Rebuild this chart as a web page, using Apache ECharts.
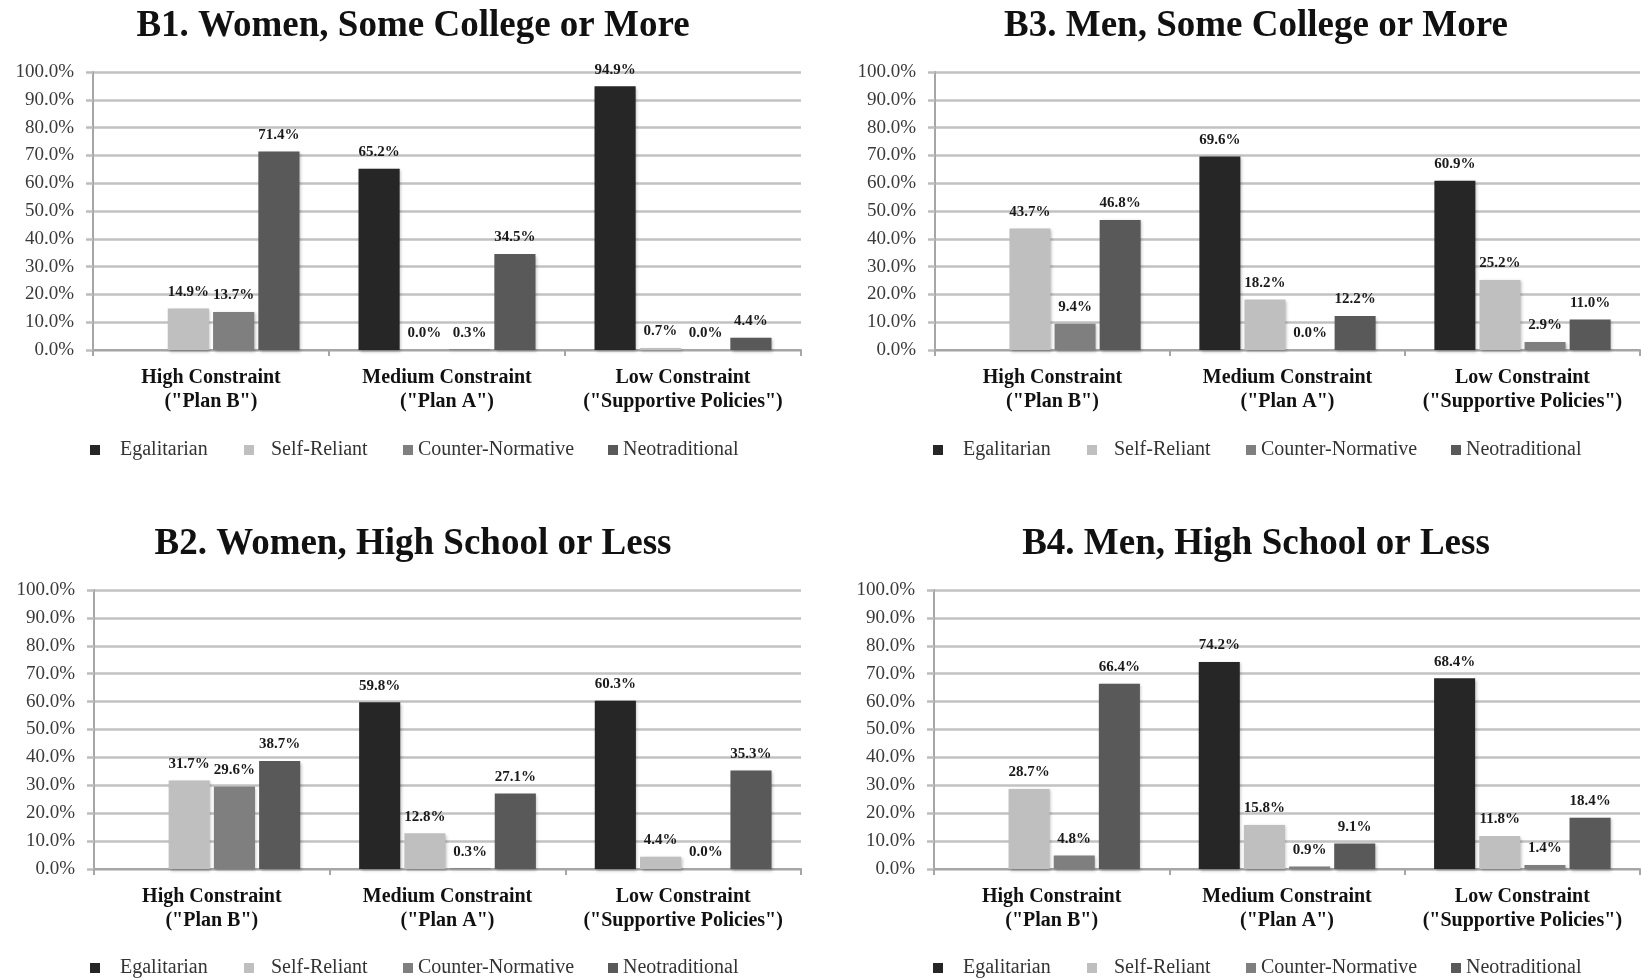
<!DOCTYPE html>
<html>
<head>
<meta charset="utf-8">
<script src="https://cdn.jsdelivr.net/npm/echarts@6/dist/echarts.min.js"></script>
<style>
html,body{margin:0;padding:0;background:#fff;}
#c{width:1641px;height:978px;}
</style>
</head>
<body>
<div id="c"></div>
<script>
// ---- data ----
const categories = ['High Constraint\n("Plan B")', 'Medium Constraint\n("Plan A")', 'Low Constraint\n("Supportive Policies")'];
const seriesNames = ['Egalitarian', 'Self-Reliant', 'Counter-Normative', 'Neotraditional'];
const yTicks = [0, 10, 20, 30, 40, 50, 60, 70, 80, 90, 100];
const panelTitles = ['B1. Women, Some College or More', 'B3. Men, Some College or More', 'B2. Women, High School or Less', 'B4. Men, High School or Less'];

// values per series, order: High, Medium, Low  (null = no bar)
const b1Egalitarian = [null, 65.2, 94.9];
const b1SelfReliant = [14.9, 0.0, 0.7];
const b1CounterNormative = [13.7, 0.3, 0.0];
const b1Neotraditional = [71.4, 34.5, 4.4];

const b3Egalitarian = [null, 69.6, 60.9];
const b3SelfReliant = [43.7, 18.2, 25.2];
const b3CounterNormative = [9.4, 0.0, 2.9];
const b3Neotraditional = [46.8, 12.2, 11.0];

const b2Egalitarian = [null, 59.8, 60.3];
const b2SelfReliant = [31.7, 12.8, 4.4];
const b2CounterNormative = [29.6, 0.3, 0.0];
const b2Neotraditional = [38.7, 27.1, 35.3];

const b4Egalitarian = [null, 74.2, 68.4];
const b4SelfReliant = [28.7, 15.8, 11.8];
const b4CounterNormative = [4.8, 0.9, 1.4];
const b4Neotraditional = [66.4, 9.1, 18.4];

const panelData = [
  [b1Egalitarian, b1SelfReliant, b1CounterNormative, b1Neotraditional],
  [b3Egalitarian, b3SelfReliant, b3CounterNormative, b3Neotraditional],
  [b2Egalitarian, b2SelfReliant, b2CounterNormative, b2Neotraditional],
  [b4Egalitarian, b4SelfReliant, b4CounterNormative, b4Neotraditional]
];

// ---- styling / layout ----
const colors = ['#262626', '#bfbfbf', '#7f7f7f', '#595959'];
const SERIF = '"Liberation Serif", "Times New Roman", "DejaVu Serif", serif';
const panels = [
  {left: 93, top: 72, width: 708, height: 278, titleX: 413, titleY: 8, legendY: 440, legendX: 0},
  {left: 935, top: 72, width: 705, height: 278, titleX: 1256, titleY: 8, legendY: 440, legendX: 843},
  {left: 94, top: 590, width: 707, height: 279, titleX: 413, titleY: 526, legendY: 958, legendX: 0},
  {left: 934, top: 590, width: 706, height: 279, titleX: 1256, titleY: 526, legendY: 958, legendX: 843}
];
const legendIconX = [90, 244, 403, 608];
const legendPad = [15, 12, 0, 0];

const option = {
  animation: false,
  backgroundColor: '#fff',
  title: [], grid: [], xAxis: [], yAxis: [], series: [], legend: []
};

panels.forEach((p, i) => {
  option.title.push({
    text: panelTitles[i], left: p.titleX, top: p.titleY, textAlign: 'center', padding: 0,
    textStyle: {fontFamily: SERIF, fontWeight: 'bold', fontSize: 37, color: '#111'}
  });
  option.grid.push({left: p.left, top: p.top, width: p.width, height: p.height, containLabel: false});
  option.xAxis.push({
    type: 'category', gridIndex: i, data: categories,
    axisLine: {lineStyle: {color: '#a6a6a6', width: 2}},
    axisTick: {show: true, length: 6, lineStyle: {color: '#a6a6a6', width: 2}},
    axisLabel: {fontFamily: SERIF, fontWeight: 'bold', fontSize: 20, color: '#111', lineHeight: 24, margin: 16, interval: 0}
  });
  option.yAxis.push({
    type: 'value', gridIndex: i, min: 0, max: 100, interval: 10,
    axisLine: {show: true, lineStyle: {color: '#a6a6a6', width: 2}},
    axisTick: {show: true, length: 7, lineStyle: {color: '#bdbdbd', width: 2.5}},
    splitLine: {lineStyle: {color: '#c2c2c2', width: 2.5}},
    axisLabel: {fontFamily: SERIF, fontSize: 19, color: '#3a3a3a', margin: 19,
      formatter: v => v.toFixed(1) + '%'}
  });
  seriesNames.forEach((name, s) => {
    option.series.push({
      name: name, type: 'bar', xAxisIndex: i, yAxisIndex: i,
      data: panelData[i][s].map(v => v === null ? '-' : v),
      barCategoryGap: '25%', barGap: '10%',
      itemStyle: {color: colors[s], shadowBlur: 3, shadowColor: 'rgba(0,0,0,0.25)', shadowOffsetX: 1.5, shadowOffsetY: 1.5},
      label: {show: true, position: 'top', distance: 9, fontFamily: SERIF, fontWeight: 'bold', fontSize: 15, color: '#1a1a1a',
        formatter: q => (typeof q.value === 'number') ? q.value.toFixed(1) + '%' : ''}
    });
    option.legend.push({
      data: [{name: name}], left: p.legendX + legendIconX[s], top: p.legendY,
      itemWidth: 10, itemHeight: 10, icon: 'rect', padding: 0, selectedMode: false,
      textStyle: {fontFamily: SERIF, fontSize: 20, color: '#333', padding: [0, 0, 0, legendPad[s]]}
    });
  });
});

const chart = echarts.init(document.getElementById('c'), null, {renderer: 'canvas'});
chart.setOption(option);
</script>
</body>
</html>
